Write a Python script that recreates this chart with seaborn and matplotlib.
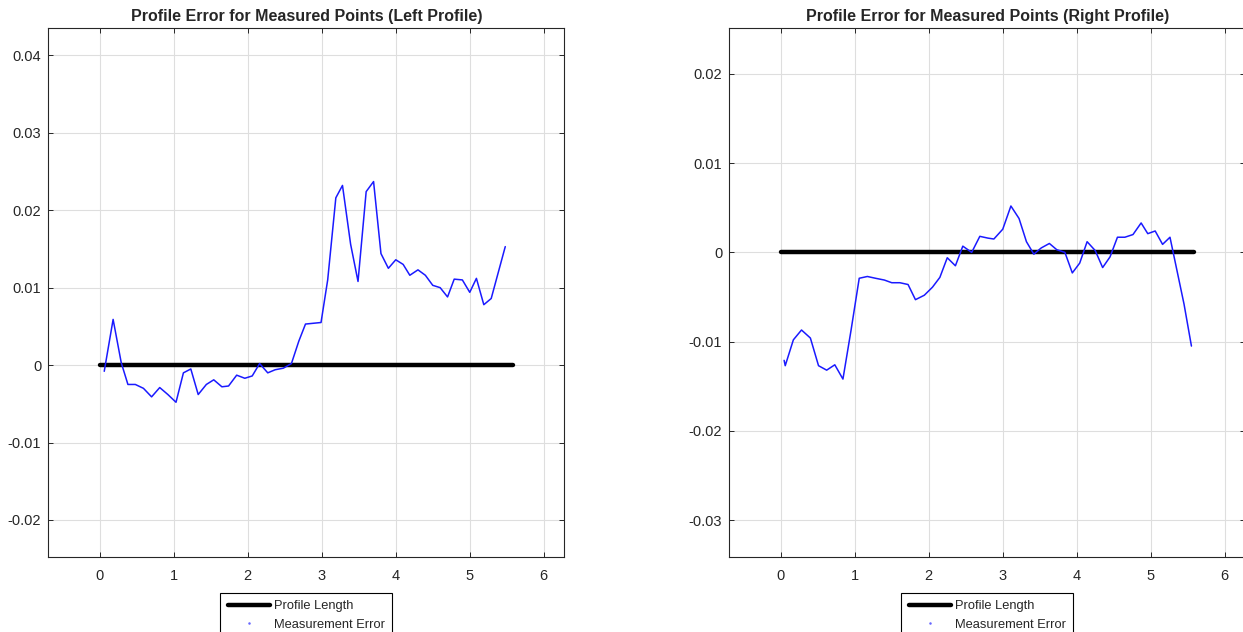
import matplotlib
matplotlib.use("Agg")
import matplotlib.pyplot as plt
import seaborn as sns
from matplotlib.lines import Line2D

# left profile: measured position vs. error
left_x = [0.06, 0.18, 0.29, 0.38, 0.48, 0.59, 0.70, 0.81, 0.92, 1.03, 1.13, 1.23,
          1.33, 1.44, 1.54, 1.65, 1.74, 1.85, 1.96, 2.06, 2.16, 2.27, 2.37, 2.48,
          2.59, 2.69, 2.78, 2.99, 3.08, 3.19, 3.28, 3.39, 3.49, 3.60, 3.70, 3.80,
          3.90, 4.00, 4.10, 4.19, 4.30, 4.40, 4.50, 4.60, 4.70, 4.79, 4.90, 5.00,
          5.09, 5.19, 5.29, 5.48]
left_err = [-0.0008, 0.0059, 0.0003, -0.0025, -0.0025, -0.0030, -0.0041, -0.0029,
            -0.0038, -0.0048, -0.0010, -0.0005, -0.0038, -0.0025, -0.0019, -0.0028,
            -0.0027, -0.0013, -0.0017, -0.0014, 0.0002, -0.0010, -0.0006, -0.0004,
            0.0002, 0.0031, 0.0053, 0.0055, 0.0110, 0.0216, 0.0232, 0.0156, 0.0108,
            0.0224, 0.0237, 0.0144, 0.0125, 0.0136, 0.0130, 0.0116, 0.0123, 0.0116,
            0.0103, 0.0100, 0.0088, 0.0111, 0.0110, 0.0094, 0.0112, 0.0078, 0.0086,
            0.0153]

# right profile
right_x = [0.045, 0.06, 0.17, 0.28, 0.40, 0.51, 0.62, 0.73, 0.84, 0.95, 1.06, 1.17,
           1.28, 1.40, 1.50, 1.61, 1.72, 1.82, 1.94, 2.05, 2.15, 2.25, 2.36, 2.46,
           2.58, 2.69, 2.80, 2.88, 3.00, 3.11, 3.22, 3.32, 3.42, 3.52, 3.63, 3.73,
           3.84, 3.94, 4.04, 4.14, 4.25, 4.35, 4.45, 4.55, 4.65, 4.76, 4.87, 4.96,
           5.06, 5.16, 5.26, 5.45, 5.55]
right_err = [-0.0121, -0.0127, -0.0098, -0.0087, -0.0096, -0.0127, -0.0132, -0.0126,
             -0.0142, -0.0087, -0.0029, -0.0027, -0.0029, -0.0031, -0.0034, -0.0034,
             -0.0036, -0.0053, -0.0048, -0.0039, -0.0028, -0.0006, -0.0015, 0.0007,
             0.0000, 0.0018, 0.0016, 0.0015, 0.0026, 0.0052, 0.0038, 0.0012, -0.0002,
             0.0005, 0.0010, 0.0003, 0.0000, -0.0023, -0.0012, 0.0012, 0.0002,
             -0.0017, -0.0005, 0.0017, 0.0017, 0.0020, 0.0033, 0.0021, 0.0024,
             0.0009, 0.0017, -0.0058, -0.0105]

profile_x = [0.0, 5.58]
profile_y = [0.0, 0.0]

x_ticks = [0, 1, 2, 3, 4, 5, 6]
left_yticks = [-0.02, -0.01, 0.0, 0.01, 0.02, 0.03, 0.04]
left_ylabels = ["-0.02", "-0.01", "0", "0.01", "0.02", "0.03", "0.04"]
right_yticks = [-0.03, -0.02, -0.01, 0.0, 0.01, 0.02]
right_ylabels = ["-0.03", "-0.02", "-0.01", "0", "0.01", "0.02"]

sns.set_style("white")
plt.rcParams["font.family"] = ["Liberation Sans", "DejaVu Sans"]

fig = plt.figure(figsize=(12.43, 6.32), dpi=100)
ax_l = fig.add_axes([0.03886, 0.11915, 0.41513, 0.83608])
ax_r = fig.add_axes([0.58672, 0.11915, 0.41513, 0.83608])

panels = [
    (ax_l, left_x, left_err, left_yticks, left_ylabels, (-0.02474, 0.04349),
     "Profile Error for Measured Points (Left Profile)"),
    (ax_r, right_x, right_err, right_yticks, right_ylabels, (-0.03411, 0.02512),
     "Profile Error for Measured Points (Right Profile)"),
]

for ax, xs, ys, yt, yl, ylim, title in panels:
    sns.lineplot(x=profile_x, y=profile_y, ax=ax, color="black", linewidth=3.2)
    sns.lineplot(x=xs, y=ys, ax=ax, color="#1a1aff", linewidth=1.1, sort=False)

    ax.set_xlim(-0.696, 6.278)
    ax.set_ylim(*ylim)
    ax.set_xticks(x_ticks)
    ax.set_xticklabels([str(t) for t in x_ticks])
    ax.set_yticks(yt)
    ax.set_yticklabels(yl)
    ax.grid(True, color="#dedede", linewidth=0.8)
    ax.set_axisbelow(True)
    for s in ax.spines.values():
        s.set_color("#262626")
        s.set_linewidth(0.8)
    ax.tick_params(direction="in", length=3.5, width=0.7, color="#262626",
                   labelsize=10.5, labelcolor="#262626",
                   top=True, right=True, bottom=True, left=True,
                   labeltop=False, labelright=False)
    ax.tick_params(axis="x", pad=9)
    ax.tick_params(axis="y", pad=5)
    ax.set_title(title, fontsize=11.5, fontweight="bold", pad=5.5)

    handles = [
        Line2D([], [], color="black", linewidth=3.2),
        Line2D([], [], color="#6666ff", marker=".", markersize=1.6, linestyle="none"),
    ]
    leg = ax.legend(handles, ["Profile Length", "Measurement Error"],
                    loc="upper center", bbox_to_anchor=(0.5, -0.0687),
                    borderaxespad=0, fontsize=9.3, handlelength=3.3,
                    handletextpad=0.3, borderpad=0.55, labelspacing=0.5,
                    fancybox=False, framealpha=1, edgecolor="black")
    leg.get_frame().set_linewidth(0.8)

fig.savefig("out.png", dpi=100)
